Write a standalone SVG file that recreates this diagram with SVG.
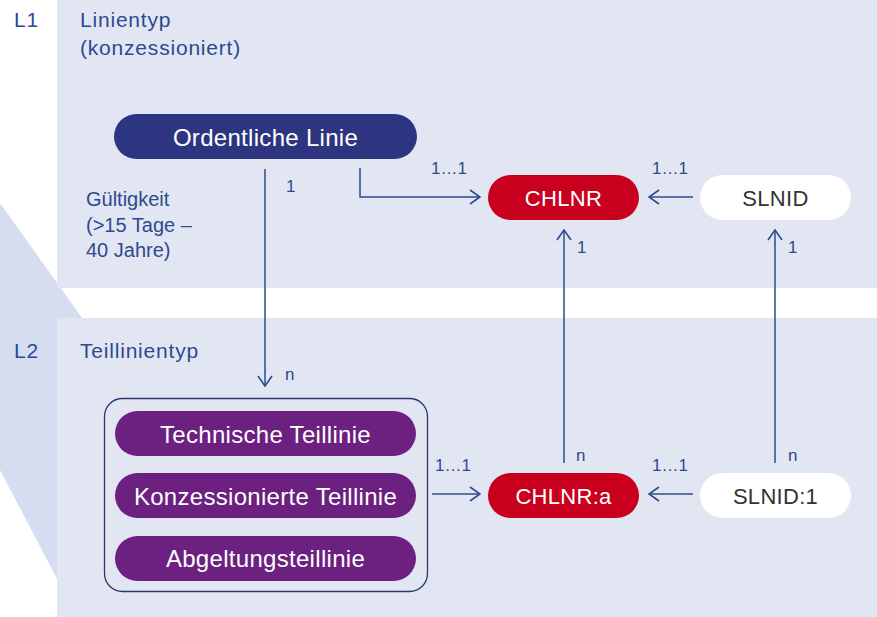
<svg xmlns="http://www.w3.org/2000/svg" width="877" height="617" viewBox="0 0 877 617">
  <defs>
    <marker id="open" viewBox="0 0 12 16" refX="11" refY="8" markerWidth="12" markerHeight="16" markerUnits="userSpaceOnUse" orient="auto">
      <path d="M1 1 L11 8 L1 15" fill="none" stroke="#2E4A8E" stroke-width="1.6"/>
    </marker>
  </defs>
  <style>
    text { font-family: "Liberation Sans", Arial, sans-serif; }
    .band { fill: #E2E6F3; }
    .lvl { font-size: 21px; fill: #2C4A8E; letter-spacing: 0.8px; }
    .note { font-size: 20px; fill: #2C4A8E; }
    .card { font-size: 17px; fill: #2C4A8E; }
    .pill-label { font-size: 24px; fill: #FFFFFF; text-anchor: middle; letter-spacing: 0.3px; }
    .key-label { font-size: 22px; text-anchor: middle; letter-spacing: 0.3px; }
    .navy { fill: #2E3580; }
    .red { fill: #C8001E; }
    .white { fill: #FFFFFF; }
    .purple { fill: #6C2080; }
    .conn { fill: none; stroke: #2E4A8E; stroke-width: 1.5; marker-end: url(#open); }
  </style>

  <rect width="877" height="617" fill="#FFFFFF"/>
  <!-- slanted backdrop band on the left -->
  <polygon points="0,203 100,343 100,617 77,617 0,470" fill="#D6DDF0"/>

  <!-- level panels -->
  <rect class="band" x="57" y="0" width="820" height="288"/>
  <rect class="band" x="57" y="318" width="820" height="299"/>

  <g id="level-labels">
    <text class="lvl" x="14" y="27">L1</text>
    <text class="lvl" x="80" y="27">Linientyp</text>
    <text class="lvl" x="80" y="55">(konzessioniert)</text>
    <text class="lvl" x="14" y="358">L2</text>
    <text class="lvl" x="80" y="358">Teillinientyp</text>
    <text class="note" x="86" y="206">Gültigkeit</text>
    <text class="note" x="86" y="232">(&gt;15 Tage –</text>
    <text class="note" x="86" y="257">40 Jahre)</text>
  </g>

  <g id="connectors">
    <path class="conn" d="M265 169 V386"/>
    <path class="conn" d="M360 168 V197 H480"/>
    <path class="conn" d="M693 197 H649"/>
    <path class="conn" d="M564 463 V230"/>
    <path class="conn" d="M775 463 V230"/>
    <path class="conn" d="M432 494 H480"/>
    <path class="conn" d="M693 494 H649"/>
    <text class="card" x="286" y="192">1</text>
    <text class="card" x="285" y="380">n</text>
    <text class="card" x="431" y="174">1…1</text>
    <text class="card" x="652" y="174">1…1</text>
    <text class="card" x="577" y="253">1</text>
    <text class="card" x="788" y="253">1</text>
    <text class="card" x="576" y="461">n</text>
    <text class="card" x="788" y="461">n</text>
    <text class="card" x="435" y="471">1…1</text>
    <text class="card" x="652" y="471">1…1</text>
  </g>

  <g id="ordentliche-linie">
    <rect class="navy" x="114" y="114" width="303" height="45" rx="22.5"/>
    <text class="pill-label" x="265.5" y="146">Ordentliche Linie</text>
  </g>

  <g id="chlnr">
    <rect class="red" x="488" y="175" width="151" height="45" rx="22.5"/>
    <text class="key-label" x="563.5" y="206" fill="#FFFFFF">CHLNR</text>
  </g>

  <g id="slnid">
    <rect class="white" x="700" y="175" width="151" height="45" rx="22.5"/>
    <text class="key-label" x="775.5" y="206" fill="#333333">SLNID</text>
  </g>

  <g id="teillinien">
    <rect x="104.5" y="398.5" width="323" height="193" rx="18" fill="none" stroke="#2B3A6B" stroke-width="1.3"/>
    <g id="technische-teillinie">
      <rect class="purple" x="115" y="411" width="301" height="45" rx="22.5"/>
      <text class="pill-label" x="265.5" y="443">Technische Teillinie</text>
    </g>
    <g id="konzessionierte-teillinie">
      <rect class="purple" x="115" y="473" width="301" height="45" rx="22.5"/>
      <text class="pill-label" x="265.5" y="505">Konzessionierte Teillinie</text>
    </g>
    <g id="abgeltungsteillinie">
      <rect class="purple" x="115" y="536" width="301" height="45" rx="22.5"/>
      <text class="pill-label" x="265.5" y="567">Abgeltungsteillinie</text>
    </g>
  </g>

  <g id="chlnr-a">
    <rect class="red" x="488" y="473" width="151" height="45" rx="22.5"/>
    <text class="key-label" x="563.5" y="504" fill="#FFFFFF">CHLNR:a</text>
  </g>

  <g id="slnid-1">
    <rect class="white" x="700" y="473" width="151" height="45" rx="22.5"/>
    <text class="key-label" x="775.5" y="504" fill="#333333">SLNID:1</text>
  </g>
</svg>
